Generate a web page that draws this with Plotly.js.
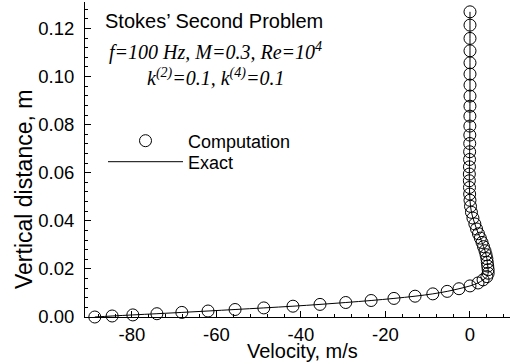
<!DOCTYPE html>
<html>
<head>
<meta charset="utf-8">
<script src="https://cdn.plot.ly/plotly-3.0.1.min.js"></script>
<style>html,body{margin:0;padding:0;background:#fff;}#chart{width:518px;height:362px;}</style>
</head>
<body>
<div id="chart"></div>
<script>
// Vertical distance (m) of computed points
var heightM = [0, 0.00042, 0.00087, 0.00137, 0.00191, 0.00249, 0.00312, 0.00378, 0.00449, 0.00524,
  0.00603, 0.00686, 0.00773, 0.00865, 0.00962, 0.01066, 0.01176, 0.01293, 0.01415, 0.01544,
  0.01679, 0.01821, 0.01966, 0.02116, 0.02270, 0.02428, 0.02590, 0.02756, 0.02927, 0.03101,
  0.03280, 0.03463, 0.03662, 0.03870, 0.04115, 0.04352, 0.04602, 0.04855, 0.05113, 0.05387,
  0.05666, 0.05945, 0.06244, 0.06551, 0.06872, 0.07217, 0.07566, 0.07940, 0.08352, 0.08767,
  0.09187, 0.09644, 0.10102, 0.10571, 0.11070, 0.11586, 0.12138, 0.12691];
// Velocity (m/s) of computed points
var velocityComp = [-88.8, -84.7, -79.8, -74.1, -68.2, -62.0, -55.6, -48.8, -41.9, -35.5,
  -29.4, -23.4, -18.0, -13.0, -8.8, -5.4, -2.6, 0.0, 1.9, 3.1,
  4.0, 4.3, 4.3, 4.2, 4.1, 4.0, 3.8, 3.55, 3.2, 2.85,
  2.45, 2.0, 1.55, 1.15, 0.7, 0.35, 0.12, 0.0, -0.08, -0.12,
  -0.15, -0.15, -0.13, -0.1, -0.08, -0.06, -0.04, -0.03, -0.02, -0.01,
  0, 0, 0, 0, 0, 0, 0, 0];
// Exact solution curve (passes through the computed points)
var heightExact = heightM;
var velocityExact = velocityComp;

var xTickVals = [-80, -60, -40, -20, 0];
var xTickText = ['-80', '-60', '-40', '-20', '0'];
var yTickVals = [0, 0.02, 0.04, 0.06, 0.08, 0.10, 0.12];
var yTickText = ['0.00', '0.02', '0.04', '0.06', '0.08', '0.10', '0.12'];
var seriesNames = ['Computation', 'Exact'];

var sans = 'Liberation Sans, Arial, Helvetica, sans-serif';
var serif = 'Liberation Serif, Times New Roman, serif';

var traces = [
  {
    x: velocityExact, y: heightExact, name: seriesNames[1], type: 'scatter', mode: 'lines',
    line: {color: '#000', width: 1, shape: 'spline'}, cliponaxis: false, legend: 'legend2'
  },
  {
    x: velocityComp, y: heightM, name: seriesNames[0], type: 'scatter', mode: 'markers',
    marker: {symbol: 'circle-open', size: 12, color: '#000', line: {width: 1, color: '#000'}},
    cliponaxis: false, legend: 'legend'
  }
];

var W = 425, H = 315, L = 85, T = 2;
function px(xp) { return (xp - L) / W; }
function py(yp) { return (T + H - yp) / H; }

var legendBase = {
  xanchor: 'left', yanchor: 'middle',
  bgcolor: 'rgba(0,0,0,0)', borderwidth: 0,
  font: {family: sans, size: 18, color: '#000'},
  itemwidth: 75
};

var layout = {
  width: 518, height: 362,
  margin: {l: L, r: 518 - L - W, t: T, b: 362 - T - H, pad: 0},
  paper_bgcolor: '#fff', plot_bgcolor: '#fff',
  font: {family: sans, size: 18.5, color: '#000'},
  showlegend: true,
  legend: Object.assign({x: px(103), y: py(141)}, legendBase),
  legend2: Object.assign({x: px(103), y: py(162)}, legendBase),
  xaxis: {
    range: [-91.12, 9.47], showgrid: false, zeroline: false,
    showline: true, linecolor: '#000', linewidth: 1, mirror: false,
    ticks: 'inside', ticklen: 6, tickwidth: 1, tickcolor: '#000',
    tickmode: 'array', tickvals: xTickVals, ticktext: xTickText,
    tickfont: {family: sans, size: 18.5, color: '#000'},
    ticklabelstandoff: 1,
    minor: {tickmode: 'linear', tick0: 0, dtick: 4, ticks: 'inside', ticklen: 3, tickwidth: 1, tickcolor: '#000', showgrid: false}
  },
  yaxis: {
    range: [0, 0.131], showgrid: false, zeroline: false,
    showline: true, linecolor: '#000', linewidth: 1, mirror: false,
    ticks: 'inside', ticklen: 6, tickwidth: 1, tickcolor: '#000',
    tickmode: 'array', tickvals: yTickVals, ticktext: yTickText,
    tickfont: {family: sans, size: 18.5, color: '#000'},
    ticklabelstandoff: 6,
    minor: {tickmode: 'linear', tick0: 0, dtick: 0.004, ticks: 'inside', ticklen: 3, tickwidth: 1, tickcolor: '#000', showgrid: false}
  },
  annotations: [
    {text: 'Stokes\u2019 Second Problem', xref: 'paper', yref: 'paper', x: px(213.5), y: py(20.5),
     xanchor: 'center', yanchor: 'middle', showarrow: false, font: {family: sans, size: 20, color: '#000'}},
    {text: '<i>f=100 Hz, M=0.3, Re=10<sup>4</sup></i>', xref: 'paper', yref: 'paper', x: px(215), y: py(51),
     xanchor: 'center', yanchor: 'middle', showarrow: false, font: {family: serif, size: 20, color: '#000'}},
    {text: '<i>k<sup>(2)</sup>=0.1, k<sup>(4)</sup>=0.1</i>', xref: 'paper', yref: 'paper', x: px(215), y: py(76.5),
     xanchor: 'center', yanchor: 'middle', showarrow: false, font: {family: serif, size: 20, color: '#000'}},
    {text: 'Velocity, m/s', xref: 'paper', yref: 'paper', x: px(302), y: py(351),
     xanchor: 'center', yanchor: 'middle', showarrow: false, font: {family: sans, size: 20, color: '#000'}},
    {text: 'Vertical distance, m', xref: 'paper', yref: 'paper', x: px(24), y: py(190), textangle: -90,
     xanchor: 'center', yanchor: 'middle', showarrow: false, font: {family: sans, size: 23, color: '#000'}}
  ]
};

Plotly.newPlot('chart', traces, layout, {displayModeBar: false, staticPlot: true});
</script>
</body>
</html>
